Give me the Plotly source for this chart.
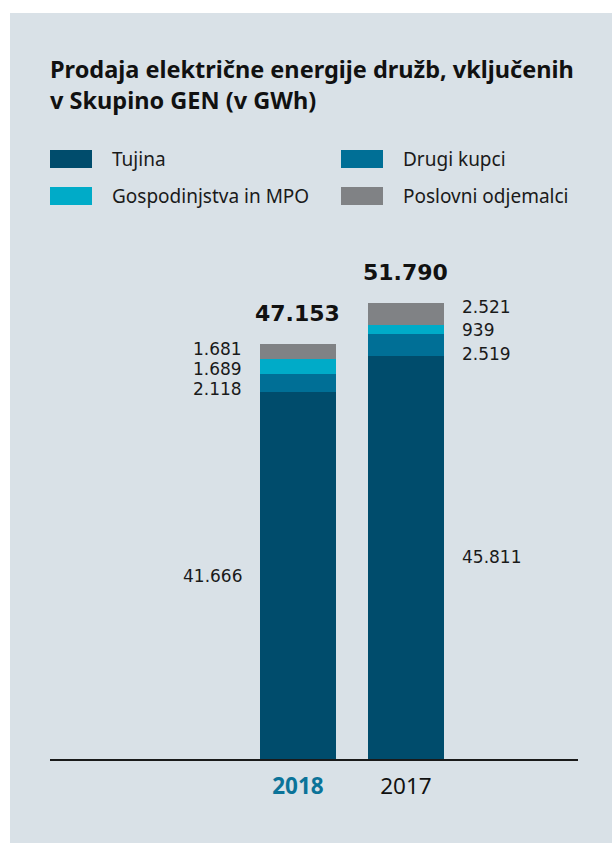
import plotly.graph_objects as go

# ---- data ----
years = ["2018", "2017"]
series_names = ["Tujina", "Drugi kupci", "Gospodinjstva in MPO", "Poslovni odjemalci"]
tujina = [41666, 45811]
drugi_kupci = [2118, 2519]
gospodinjstva = [1689, 939]
poslovni = [1681, 2521]
totals = [47153, 51790]
value_labels = {
    "Tujina": ["41.666", "45.811"],
    "Drugi kupci": ["2.118", "2.519"],
    "Gospodinjstva in MPO": ["1.689", "939"],
    "Poslovni odjemalci": ["1.681", "2.521"],
}
total_labels = ["47.153", "51.790"]
title_text = "Prodaja električne energije družb, vključenih<br>v Skupino GEN (v GWh)"

# ---- style ----
W, H = 612, 844
colors = ["#004c6c", "#006f96", "#00abc8", "#808285"]
panel_bg = "#d9e1e7"
bar_width = 0.7037
label_yshift = {
    "Tujina": [0, 0],
    "Drugi kupci": [-6, -9],
    "Gospodinjstva in MPO": [-3, 0],
    "Poslovni odjemalci": [2, 7],
}

series_values = [tujina, drugi_kupci, gospodinjstva, poslovni]

fig = go.Figure()
for name, vals, col in zip(series_names, series_values, colors):
    fig.add_trace(go.Bar(
        x=[0, 1], y=vals, name=name, width=bar_width,
        marker=dict(color=col, line=dict(width=0)),
        showlegend=False, hoverinfo="name+y",
    ))

annotations = []
# value labels beside bars
cum = [0, 0]
for name, vals in zip(series_names, series_values):
    for i in range(2):
        center = cum[i] + vals[i] / 2
        cum[i] += vals[i]
        left = (i == 0)
        annotations.append(dict(
            x=i - bar_width / 2 if left else i + bar_width / 2,
            y=center, xref="x", yref="y",
            text=value_labels[name][i], showarrow=False,
            xanchor="right" if left else "left", yanchor="middle",
            xshift=-16 if left else 16,
            yshift=label_yshift[name][i],
            font=dict(family="DejaVu Sans", size=17, color="#1a1a1a"),
        ))

# totals
for i in range(2):
    annotations.append(dict(
        x=i, y=totals[i], xref="x", yref="y", text="<b>%s</b>" % total_labels[i],
        showarrow=False, xanchor="center", yanchor="middle", yshift=31,
        font=dict(family="DejaVu Sans", size=22, color="#111111"),
    ))

# title
annotations.append(dict(
    x=50 / W, y=1 - 51 / H, xref="paper", yref="paper", text="<b>%s</b>" % title_text,
    showarrow=False, xanchor="left", yanchor="top", align="left", xshift=-2,
    font=dict(family="Noto Sans", size=23.5, color="#111111"),
))

# legend (manual, 2 x 2 grid)
shapes = [dict(type="rect", xref="paper", yref="paper", x0=10 / W, x1=1,
               y0=1 - 843 / H, y1=1 - 13 / H, fillcolor=panel_bg,
               line=dict(width=0), layer="below")]
leg_cols = [50, 341]
leg_rows = [159, 196]
for k, (name, col) in enumerate(zip(series_names, colors)):
    cx = leg_cols[k % 2]
    cy = leg_rows[k // 2]
    shapes.append(dict(type="rect", xref="paper", yref="paper",
                       x0=cx / W, x1=(cx + 42) / W,
                       y0=1 - (cy + 9) / H, y1=1 - (cy - 9) / H,
                       fillcolor=col, line=dict(width=0)))
    annotations.append(dict(
        x=(cx + 60) / W, y=1 - cy / H, xref="paper", yref="paper", text=name,
        showarrow=False, xanchor="left", yanchor="middle",
        font=dict(family="Noto Sans", size=19, color="#1a1a1a"),
    ))

ticktext = ["<b><span style='color:#0b7399'>2018</span></b>", "2017"]

fig.update_layout(
    width=W, height=H,
    margin=dict(l=0, r=0, t=0, b=0),
    paper_bgcolor="white", plot_bgcolor="rgba(0,0,0,0)",
    barmode="stack", bargap=0,
    annotations=annotations, shapes=shapes,
    xaxis=dict(domain=[50 / W, 578 / W], range=[-2.296, 2.593],
               tickvals=[0, 1], ticktext=ticktext, showgrid=False, zeroline=False,
               showline=True, linecolor="#1a1a1a", linewidth=1.5, ticks="",
               ticklabelstandoff=6,
               tickfont=dict(family="Noto Sans", size=22.5, color="#111111"),
               fixedrange=True),
    yaxis=dict(domain=[1 - 759 / H, 1 - 250 / H], range=[0, 57840], visible=False,
               fixedrange=True),
)

fig.write_html(
    "out.html",
    config={"displayModeBar": False},
    post_script="document.body.style.margin='0';document.body.style.padding='0';",
)
